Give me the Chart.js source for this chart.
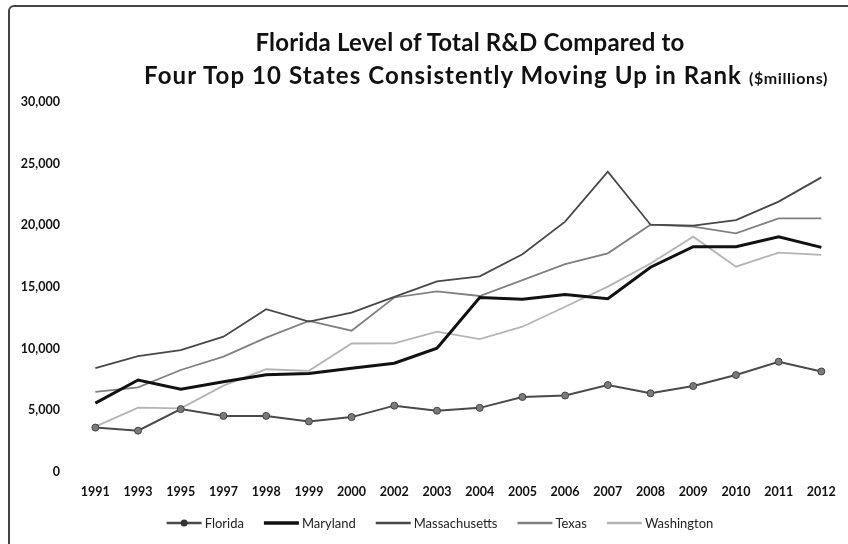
<!DOCTYPE html>
<html lang="en">
<head>
  <meta charset="UTF-8">
  <title>Florida R&D vs Top 10 States</title>
  <style>
    body {
      margin: 0;
      width: 848px;
      height: 544px;
      overflow: hidden;
      background: #fff;
      font-family: 'Lato', sans-serif;
    }
    .frame {
      position: absolute;
      left: 8px;
      top: 5px;
      width: 900px;
      height: 600px;
      border: 2px solid #444;
      border-radius: 6px;
    }
    .title {
      position: absolute;
      left: 0;
      width: 100%;
      text-align: center;
      font-weight: 700;
      color: #111;
      white-space: nowrap;
      box-sizing: border-box;
    }
    .t1 { top: 27px; font-size: 24px; padding-left: 92px; letter-spacing: 0.2px; }
    .t2 { top: 60px; font-size: 24px; padding-left: 124px; letter-spacing: 1.1px; }
    .t2 small { font-size: 16px; letter-spacing: 0.6px; }
    .chart-box {
      position: absolute;
      left: 0;
      top: 0;
      width: 848px;
      height: 544px;
    }
  </style>
  <script src="https://cdn.jsdelivr.net/npm/chart.js"></script>
</head>
<body>
  <div class="frame"></div>
  <div class="chart-box"><canvas id="rdChart"></canvas></div>
  <div class="title t1">Florida Level of Total R&amp;D Compared to</div>
  <div class="title t2">Four Top 10 States Consistently Moving Up in Rank <small>($millions)</small></div>
  <script>
    // values, $ millions
    const years = ['1991', '1993', '1995', '1997', '1998', '1999', '2000', '2002', '2003',
                   '2004', '2005', '2006', '2007', '2008', '2009', '2010', '2011', '2012'];
    const florida = [3600, 3350, 5100, 4550, 4550, 4100, 4450, 5380, 4970,
                     5200, 6080, 6200, 7050, 6380, 6970, 7860, 8940, 8150];
    const maryland = [5580, 7460, 6720, 7320, 7880, 7980, 8420, 8820, 10040,
                      14150, 14010, 14400, 14050, 16600, 18270, 18270, 19080, 18210];
    const massachusetts = [8430, 9400, 9890, 10970, 13200, 12200, 12920, 14200, 15450,
                           15870, 17650, 20300, 24350, 20050, 19980, 20430, 21920, 23890];
    const texas = [6500, 6870, 8270, 9350, 10900, 12250, 11460, 14150, 14650,
                   14270, 15550, 16850, 17730, 20050, 19900, 19350, 20560, 20560];
    const washington = [3680, 5220, 5160, 7000, 8330, 8200, 10420, 10430, 11380,
                        10780, 11780, 13400, 15030, 16900, 19080, 16650, 17790, 17600];
    const yTicks = [0, 5000, 10000, 15000, 20000, 25000, 30000];

    const series = [
      { label: 'Florida', data: florida, color: '#4a4a4a', width: 2, dot: true },
      { label: 'Maryland', data: maryland, color: '#111111', width: 3 },
      { label: 'Massachusetts', data: massachusetts, color: '#484848', width: 1.8 },
      { label: 'Texas', data: texas, color: '#808080', width: 1.8 },
      { label: 'Washington', data: washington, color: '#b4b4b4', width: 1.8 }
    ];

    // legend drawn by hand so the Florida entry gets its dot on the line
    const lineLegend = {
      id: 'lineLegend',
      afterDraw(chart) {
        const ctx = chart.ctx;
        ctx.save();
        ctx.font = '13px Lato';
        ctx.textBaseline = 'middle';
        const lineLen = 35, gap = 3, itemGap = 20;
        const widths = series.map(s => lineLen + gap + ctx.measureText(s.label).width);
        const total = widths.reduce((a, b) => a + b, 0) + itemGap * (series.length - 1);
        let x = 440 - total / 2;
        const y = 523;
        series.forEach((s, i) => {
          ctx.strokeStyle = s.color;
          ctx.lineWidth = s.width + 0.5;
          ctx.beginPath();
          ctx.moveTo(x, y);
          ctx.lineTo(x + lineLen, y);
          ctx.stroke();
          if (s.dot) {
            ctx.fillStyle = '#333';
            ctx.beginPath();
            ctx.arc(x + lineLen / 2, y, 3.5, 0, Math.PI * 2);
            ctx.fill();
          }
          ctx.fillStyle = '#222';
          ctx.fillText(s.label, x + lineLen + gap, y + 1);
          x += widths[i] + itemGap;
        });
        ctx.restore();
      }
    };

    new Chart(document.getElementById('rdChart'), {
      type: 'line',
      data: {
        labels: years,
        datasets: series.map(s => ({
          label: s.label,
          data: s.data,
          borderColor: s.color,
          borderWidth: s.width,
          pointRadius: s.dot ? 3.5 : 0,
          pointBackgroundColor: '#7a7a7a',
          pointBorderColor: '#444',
          pointBorderWidth: 1,
          tension: 0,
          fill: false
        }))
      },
      options: {
        responsive: true,
        maintainAspectRatio: false,
        animation: false,
        layout: { padding: { left: 8, right: 5, top: 102, bottom: 28 } },
        plugins: {
          legend: { display: false },
          title: { display: false },
          tooltip: { enabled: false }
        },
        scales: {
          x: {
            offset: true,
            grid: { display: false, drawTicks: false },
            border: { display: false },
            ticks: {
              color: '#111',
              font: { family: 'Lato', size: 12.5, weight: 'bold' },
              padding: 12,
              maxRotation: 0,
              autoSkip: false
            },
            afterFit(scale) { scale.height = 44; }
          },
          y: {
            min: 0,
            max: 30000,
            grid: { display: false, drawTicks: false },
            border: { display: false },
            afterBuildTicks(scale) { scale.ticks = yTicks.map(v => ({ value: v })); },
            ticks: {
              color: '#111',
              font: { family: 'Lato', size: 12.5, weight: 'bold' },
              padding: 14,
              callback: v => v.toLocaleString('en-US')
            },
            afterFit(scale) { scale.width = 66; }
          }
        }
      },
      plugins: [lineLegend]
    });
  </script>
</body>
</html>
